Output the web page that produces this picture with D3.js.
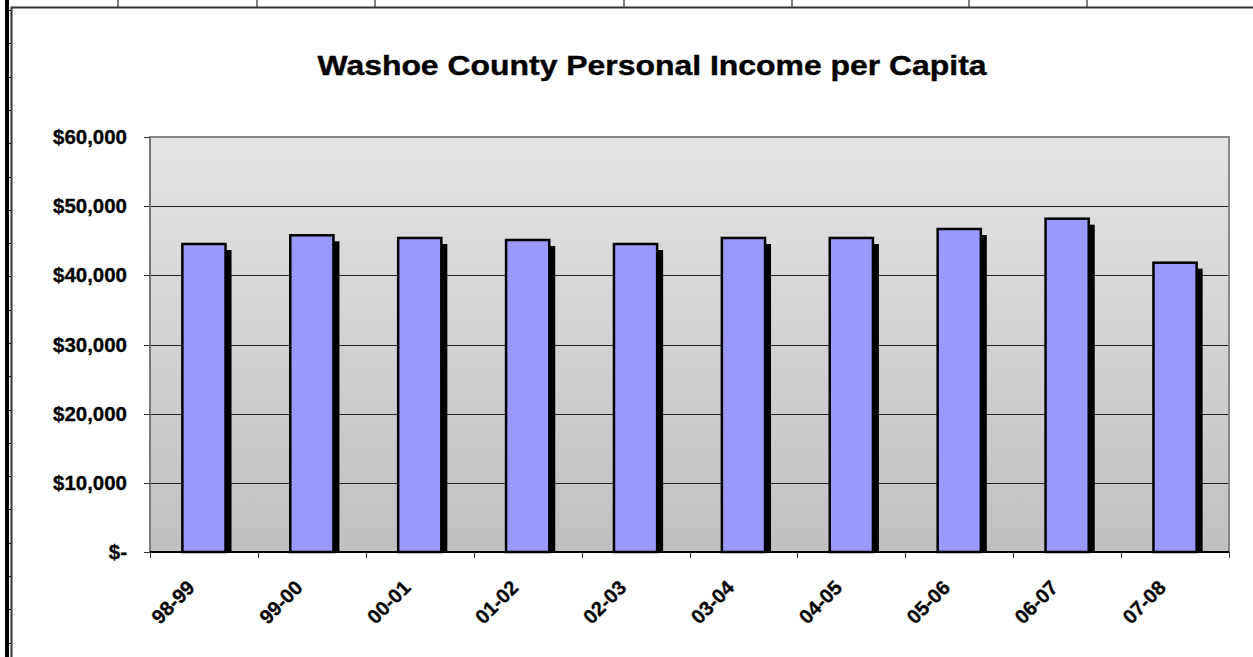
<!DOCTYPE html>
<html>
<head>
<meta charset="utf-8">
<script src="https://d3js.org/d3.v7.min.js"></script>
<style>
  body { margin: 0; background: #fff; }
  svg text { font-family: Arial, "Liberation Sans", sans-serif; font-weight: bold; fill: #000; }
</style>
</head>
<body>
<svg id="chart"></svg>
<script>
    // data
    var years = ["98-99", "99-00", "00-01", "01-02", "02-03", "03-04", "04-05", "05-06", "06-07", "07-08"];
    var income = [44530, 45790, 45400, 45110, 44530, 45400, 45400, 46700, 48190, 41830];
    var yTicks = [0, 10000, 20000, 30000, 40000, 50000, 60000];

    var Width = 1253, Height = 657;
    var Left = 150, Right = 1229, Top = 137, Bottom = 552;

    var svg = d3.select("#chart").attr("width", Width).attr("height", Height);

    // spreadsheet grid behind the chart
    var colLines = [118, 257, 375, 624, 792, 969, 1087];
    svg.selectAll("line.col").data(colLines).enter().append("line")
        .attr("x1", function(d){ return d; }).attr("x2", function(d){ return d; })
        .attr("y1", 0).attr("y2", 7)
        .attr("stroke", "#000").attr("stroke-width", 1);
    var rowLines = d3.range(10, Height, 33.3);
    svg.selectAll("line.row").data(rowLines).enter().append("line")
        .attr("x1", 8).attr("x2", 12)
        .attr("y1", function(d){ return Math.round(d) + 0.5; }).attr("y2", function(d){ return Math.round(d) + 0.5; })
        .attr("stroke", "#000").attr("stroke-width", 1);
    svg.append("rect").attr("x", 5).attr("y", 0).attr("width", 4).attr("height", Height).attr("fill", "#000");
    // chart frame
    svg.append("path")
        .attr("d", "M11.5," + Height + "V7.5H" + Width)
        .attr("fill", "none").attr("stroke", "#333").attr("stroke-width", 2);

    // title
    svg.append("text")
        .attr("transform", "translate(652,75) scale(1.14,1)")
        .attr("text-anchor", "middle")
        .style("font-size", "28px")
        .style("stroke", "#000").style("stroke-width", 0.4)
        .text("Washoe County Personal Income per Capita");

    var x = d3.scaleBand().domain(years).range([Left, Right]).paddingInner(0.6).paddingOuter(0.3);
    var xStep = d3.scaleBand().domain(years).range([Left, Right]);
    var y = d3.scaleLinear().domain([0, 60000]).range([Bottom, Top]);

    // plot area gradient
    var grad = svg.append("defs").append("linearGradient")
        .attr("id", "bg").attr("x1", 0).attr("x2", 0).attr("y1", 0).attr("y2", 1);
    grad.append("stop").attr("offset", "0%").attr("stop-color", "#e4e4e4");
    grad.append("stop").attr("offset", "100%").attr("stop-color", "#c0c0c0");

    svg.append("rect")
        .attr("x", Left).attr("y", Top)
        .attr("width", Right - Left).attr("height", Bottom - Top)
        .attr("fill", "url(#bg)");

    // gridlines
    svg.selectAll("line.grid").data(yTicks.slice(1, -1)).enter().append("line")
        .attr("x1", Left).attr("x2", Right)
        .attr("y1", function(d){ return Math.round(y(d)) + 0.5; })
        .attr("y2", function(d){ return Math.round(y(d)) + 0.5; })
        .attr("stroke", "#222").attr("stroke-width", 1);

    // plot border
    svg.append("rect")
        .attr("x", Left).attr("y", Top)
        .attr("width", Right - Left).attr("height", Bottom - Top)
        .attr("fill", "none").attr("stroke", "#888").attr("stroke-width", 2);

    // shadows then bars
    var shadow = 6;
    svg.selectAll("rect.shadow").data(income).enter().append("rect")
        .attr("x", function(d, i){ return x(years[i]) + shadow; })
        .attr("y", function(d){ return y(d) + shadow; })
        .attr("width", x.bandwidth())
        .attr("height", function(d){ return Bottom - y(d) - shadow; })
        .attr("fill", "#000");

    svg.selectAll("rect.bar").data(income).enter().append("rect")
        .attr("x", function(d, i){ return x(years[i]); })
        .attr("y", function(d){ return y(d); })
        .attr("width", x.bandwidth())
        .attr("height", function(d){ return Bottom - y(d); })
        .attr("fill", "#9999ff")
        .attr("stroke", "#000").attr("stroke-width", 2.5);

    // y axis
    var fmt = d3.format(",");
    var yAxis = svg.append("g");
    yAxis.append("line").attr("x1", Left).attr("x2", Left).attr("y1", Top).attr("y2", Bottom)
        .attr("stroke", "#777").attr("stroke-width", 2);
    yAxis.selectAll("line.tick").data(yTicks).enter().append("line")
        .attr("x1", Left - 6).attr("x2", Left)
        .attr("y1", function(d){ return Math.round(y(d)) + 0.5; })
        .attr("y2", function(d){ return Math.round(y(d)) + 0.5; })
        .attr("stroke", "#333");
    yAxis.selectAll("text").data(yTicks).enter().append("text")
        .attr("transform", function(d){ return "translate(127," + (y(d) + 7) + ") scale(1.05,1)"; })
        .attr("text-anchor", "end")
        .style("font-size", "19.5px")
        .style("stroke", "#000").style("stroke-width", 0.3)
        .text(function(d){ return d === 0 ? "$-" : "$" + fmt(d); });

    // x axis
    var xAxis = svg.append("g");
    xAxis.append("line").attr("x1", Left).attr("x2", Right).attr("y1", Bottom).attr("y2", Bottom)
        .attr("stroke", "#000").attr("stroke-width", 2);
    var bounds = years.map(function(c){ return xStep(c); }).concat([Right]);
    xAxis.selectAll("line.tick").data(bounds).enter().append("line")
        .attr("x1", function(d){ return Math.round(d) + 0.5; })
        .attr("x2", function(d){ return Math.round(d) + 0.5; })
        .attr("y1", Bottom).attr("y2", Bottom + 6)
        .attr("stroke", "#333");
    xAxis.selectAll("text").data(years).enter().append("text")
        .attr("transform", function(d){
            var cx = xStep(d) + xStep.bandwidth() / 2;
            return "translate(" + (cx - 8) + ",589) rotate(-45)";
        })
        .attr("text-anchor", "end")
        .style("font-size", "20px")
        .style("stroke", "#000").style("stroke-width", 0.3)
        .text(function(d){ return d; });
</script>
</body>
</html>
